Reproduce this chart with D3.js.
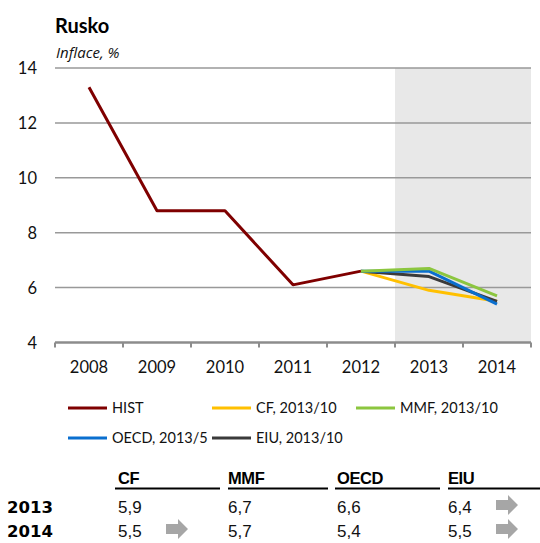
<!DOCTYPE html>
<html><head><meta charset="utf-8">
<script src="https://cdn.jsdelivr.net/npm/d3@7"></script>
<style>body{margin:0;background:#fff}svg{display:block}</style>
</head><body>
<script>
const years = ["2008","2009","2010","2011","2012","2013","2014"];
const yTicks = [4,6,8,10,12,14];
const hist = [13.3, 8.8, 8.8, 6.1, 6.6, null, null];
const cf   = [null,null,null,null,6.6,5.9,5.5];
const mmf  = [null,null,null,null,6.6,6.7,5.7];
const oecd = [null,null,null,null,6.6,6.6,5.4];
const eiu  = [null,null,null,null,6.6,6.4,5.5];
const seriesNames = ["HIST","CF, 2013/10","MMF, 2013/10","OECD, 2013/5","EIU, 2013/10"];
const seriesColors = ["#7f0000","#ffc000","#8cc63f","#0a6fcf","#3a3a3a"];
const tableHeads = ["CF","MMF","OECD","EIU"];
const tableRows = ["2013","2014"];
const table2013 = ["5,9","6,7","6,6","6,4"];
const table2014 = ["5,5","5,7","5,4","5,5"];
const arrows2013 = [false,false,false,true];
const arrows2014 = [true,false,false,true];

const W=540,H=543;
const svg=d3.select("body").append("svg").attr("width",W).attr("height",H);
const font="Lato, 'Open Sans', sans-serif";
const x=d3.scaleBand().domain(years).range([55,531]);
const y=d3.scaleLinear().domain([4,14]).range([342.5,68]);

// shaded forecast region
svg.append("rect").attr("x",x("2013")).attr("y",y(14)).attr("width",x("2014")+x.bandwidth()-x("2013")).attr("height",y(4)-y(14)).attr("fill","#e8e8e8");

// gridlines
svg.append("g").selectAll("line").data(yTicks.filter(d=>d>4)).join("line")
 .attr("x1",55).attr("x2",531).attr("y1",d=>y(d)).attr("y2",d=>y(d))
 .attr("stroke","#999").attr("stroke-width",1.5);

// y labels
svg.append("g").selectAll("text").data(yTicks).join("text")
 .attr("x",37).attr("y",d=>y(d)+6).attr("text-anchor","end")
 .attr("font-family",font).attr("font-size",16.5).attr("fill","#111").text(d=>d);

// x axis
const xAxis=d3.axisBottom(x).tickSize(0).tickFormat("");
const gx=svg.append("g").attr("transform",`translate(0,${y(4)})`).call(xAxis);
gx.select(".domain").remove();
svg.append("line").attr("x1",55).attr("x2",531).attr("y1",y(4)).attr("y2",y(4)).attr("stroke","#8c8c8c").attr("stroke-width",2.5);
const tickXs=years.map(d=>x(d)).concat([531]);
svg.append("g").selectAll("line").data(tickXs).join("line")
 .attr("x1",d=>d).attr("x2",d=>d).attr("y1",y(4)).attr("y2",y(4)+5)
 .attr("stroke","#8c8c8c").attr("stroke-width",2);
svg.append("g").selectAll("text").data(years).join("text")
 .attr("x",d=>x(d)+x.bandwidth()/2).attr("y",373).attr("text-anchor","middle")
 .attr("font-family",font).attr("font-size",16.5).attr("fill","#111").text(d=>d);

// lines
const line=d3.line().defined(d=>d.v!=null).x(d=>x(d.k)+x.bandwidth()/2).y(d=>y(d.v));
const allSeries=[hist,cf,mmf,oecd,eiu];
const order=[0,1,4,3,2];
order.forEach(i=>{
  svg.append("path").datum(years.map((k,j)=>({k,v:allSeries[i][j]})))
   .attr("d",line).attr("fill","none").attr("stroke",seriesColors[i]).attr("stroke-width",3)
   .attr("stroke-linejoin","round");
});

// titles
svg.append("text").attr("x",55).attr("y",33).attr("font-family",font).attr("font-weight","bold").attr("font-size",20).attr("fill","#000").text("Rusko");
svg.append("text").attr("x",56).attr("y",58).attr("font-family","'Open Sans', sans-serif").attr("font-style","italic").attr("font-size",15).attr("fill","#111").text("Inflace, %");

// legend
const legPos=[[68,408],[212,408],[356,408],[68,438],[212,438]];
seriesNames.forEach((n,i)=>{
  const [lx,ly]=legPos[i];
  svg.append("line").attr("x1",lx).attr("x2",lx+39).attr("y1",ly).attr("y2",ly).attr("stroke",seriesColors[i]).attr("stroke-width",3);
  svg.append("text").attr("x",lx+44).attr("y",ly+5).attr("font-family",font).attr("font-size",14.5).attr("fill","#111").text(n);
});

// table
const tfont="'Liberation Sans', Arial, sans-serif";
const colX=[118,228,337,448];
const ulX=[[115,220],[228,328],[335,440],[448,540]];
tableHeads.forEach((h,i)=>{
  svg.append("text").attr("x",colX[i]).attr("y",484).attr("font-family",tfont).attr("font-weight","bold").attr("font-size",16.5).attr("letter-spacing",-0.4).attr("fill","#000").text(h);
  svg.append("line").attr("x1",ulX[i][0]).attr("x2",ulX[i][1]).attr("y1",488.5).attr("y2",488.5).attr("stroke","#000").attr("stroke-width",2);
});
const rowsY=[513,537];
[table2013,table2014].forEach((vals,r)=>{
  svg.append("text").attr("x",7).attr("y",rowsY[r]).attr("font-family","'DejaVu Sans', sans-serif").attr("font-weight","bold").attr("font-size",16.5).attr("fill","#000").text(tableRows[r]);
  vals.forEach((v,i)=>{
    svg.append("text").attr("x",colX[i]).attr("y",rowsY[r]).attr("font-family",tfont).attr("font-size",17).attr("fill","#111").text(v);
  });
  const arr=[arrows2013,arrows2014][r];
  arr.forEach((a,i)=>{
    if(!a) return;
    const ax=colX[i]+48, cy=rowsY[r]-8;
    svg.append("path").attr("d",`M${ax},${cy-5}H${ax+12}V${cy-10}L${ax+22},${cy}L${ax+12},${cy+10}V${cy+5}H${ax}Z`).attr("fill","#a6a6a6");
  });
});
</script>
</body></html>
